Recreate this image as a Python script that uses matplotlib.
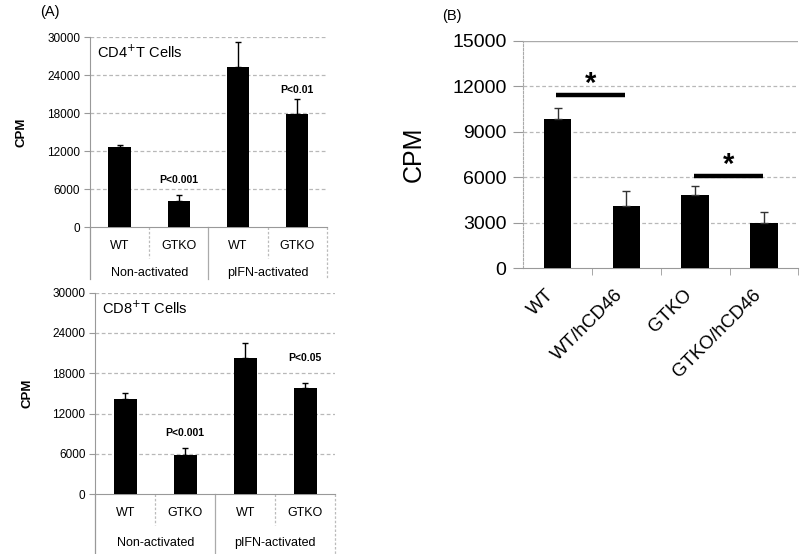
import numpy as np
import matplotlib.pyplot as plt
import matplotlib.transforms as mtransforms

plt.rcParams['font.family'] = ['Liberation Sans', 'DejaVu Sans']

# ---- data ----
a_groups = ["Non-activated", "pIFN-activated"]
a_cats = ["WT", "GTKO", "WT", "GTKO"]

cd4_vals = [12600, 4200, 25300, 17800]
cd4_err = [350, 900, 3900, 2400]
cd4_pvals = ["", "P<0.001", "", "P<0.01"]
cd4_p_y = [0, 7400, 0, 21600]

cd8_vals = [14100, 5800, 20200, 15800]
cd8_err = [900, 1000, 2300, 750]
cd8_pvals = ["", "P<0.001", "", "P<0.05"]
cd8_p_y = [0, 9100, 0, 20300]

b_cats = ["WT", "WT/hCD46", "GTKO", "GTKO/hCD46"]
b_vals = [9850, 4100, 4850, 3000]
b_err = [700, 1000, 550, 700]
b_sig_pairs = [(0, 1), (2, 3)]
b_sig_y = [11450, 6100]

fig = plt.figure(figsize=(8, 5.54), dpi=100)

GRID = "#b8b8b8"


def panel_a(rect, vals, err, pvals, p_y, title, row1, row2, bottom_px):
    ax = fig.add_axes(rect)
    x = np.arange(len(vals)) + 0.5
    ax.bar(x, vals, width=0.38, color="black", zorder=3)
    ax.errorbar(x, vals, yerr=[np.zeros(len(err)), err], fmt="none",
                ecolor="black", elinewidth=1, capsize=2.5, capthick=1, zorder=3)
    ax.set_xlim(0, 4)
    ax.set_ylim(0, 30000)
    ax.set_yticks(np.arange(0, 30001, 6000))
    for v in np.arange(6000, 30001, 6000):
        ax.axhline(v, color=GRID, lw=0.9, ls=(0, (3, 2)), zorder=1)
    for s in ["top", "right"]:
        ax.spines[s].set_visible(False)
    ax.spines["left"].set_color("#999999")
    ax.spines["bottom"].set_color("#999999")
    ax.tick_params(axis="y", length=4, color="#999999", labelsize=8.5, pad=3)
    ax.tick_params(axis="x", length=0, labelbottom=False)
    ax.set_ylabel("CPM", fontsize=9.5, fontweight="bold", labelpad=14)
    ax.text(0.12, 27600, title, fontsize=10.5, ha="left", va="center")
    for xi, p, py in zip(x, pvals, p_y):
        if p:
            ax.text(xi, py, p, fontsize=7.5, fontweight="bold", ha="center", va="center")

    # category table under the axis
    h_px = rect[3] * 554
    r1 = -row1 / h_px
    r2 = -row2 / h_px
    rb = -bottom_px / h_px
    tr = mtransforms.blended_transform_factory(ax.transData, ax.transAxes)
    for xi, c in zip(x, a_cats):
        ax.text(xi, r1, c, transform=tr, fontsize=9, ha="center", va="center")
    for gi, g in enumerate(a_groups):
        ax.text(1 + 2 * gi, r2, g, transform=tr, fontsize=9, ha="center", va="center")
    ax.plot([0, 0], [0, rb], transform=tr, color="#999999", lw=0.9, clip_on=False)
    ax.plot([2, 2], [0, rb], transform=tr, color="#aaaaaa", lw=0.9, clip_on=False)
    ax.plot([4, 4], [0, rb], transform=tr, color="#bbbbbb", lw=0.9, ls=(0, (2, 1.5)), clip_on=False)
    for sx in [1, 3]:
        ax.plot([sx, sx], [0, -(row1 + 12) / h_px], transform=tr, color="#bbbbbb",
                lw=0.9, ls=(0, (2, 1.5)), clip_on=False)
    return ax


panel_a([0.1125, 0.590, 0.296, 0.343], cd4_vals, cd4_err, cd4_pvals, cd4_p_y,
        "CD4$^{+}$T Cells", 19, 46, 52)
panel_a([0.119, 0.108, 0.300, 0.364], cd8_vals, cd8_err, cd8_pvals, cd8_p_y,
        "CD8$^{+}$T Cells", 19, 49, 62)

# ---- panel B ----
axb = fig.add_axes([0.654, 0.5162, 0.344, 0.4103])
xb = np.arange(len(b_vals)) + 0.5
axb.bar(xb, b_vals, width=0.4, color="black", zorder=3)
axb.errorbar(xb, b_vals, yerr=[np.zeros(len(b_err)), b_err], fmt="none",
             ecolor="#333333", elinewidth=1, capsize=3, capthick=1, zorder=3)
axb.set_xlim(0, 4)
axb.set_ylim(0, 15000)
axb.set_yticks(np.arange(0, 15001, 3000))
for v in np.arange(3000, 12001, 3000):
    axb.axhline(v, color=GRID, lw=0.9, ls=(0, (3, 2)), zorder=1)
axb.axhline(15000, color="#aaaaaa", lw=1, zorder=1)
for s in ["top", "right"]:
    axb.spines[s].set_visible(False)
axb.spines["left"].set_color("#aaaaaa")
axb.spines["left"].set_linestyle((0, (2, 1.5)))
axb.spines["bottom"].set_color("#999999")
axb.tick_params(axis="y", length=7, color="#999999", labelsize=14, pad=5)
axb.set_xticks(xb)
axb.set_xticklabels(b_cats, rotation=45, ha="right", fontsize=13.5)
axb.tick_params(axis="x", length=0, pad=13)
axb.set_xticks(np.arange(1, 5), minor=True)
axb.tick_params(axis="x", which="minor", length=5, color="#999999")
axb.set_ylabel("CPM", fontsize=18, labelpad=19)
for (i, j), sy in zip(b_sig_pairs, b_sig_y):
    axb.plot([xb[i] - 0.02, xb[j] - 0.02], [sy, sy], color="black", lw=3.2,
             solid_capstyle="butt", zorder=4)
    axb.text((xb[i] + xb[j]) / 2 - 0.02, sy - 250, "*", fontsize=21,
             fontweight="bold", ha="center", va="bottom", zorder=4)

fig.text(0.05, 0.978, "(A)", fontsize=10.5, ha="left", va="center")
fig.text(0.553, 0.972, "(B)", fontsize=10.5, ha="left", va="center")

fig.savefig("out.png", dpi=100, facecolor="white")
